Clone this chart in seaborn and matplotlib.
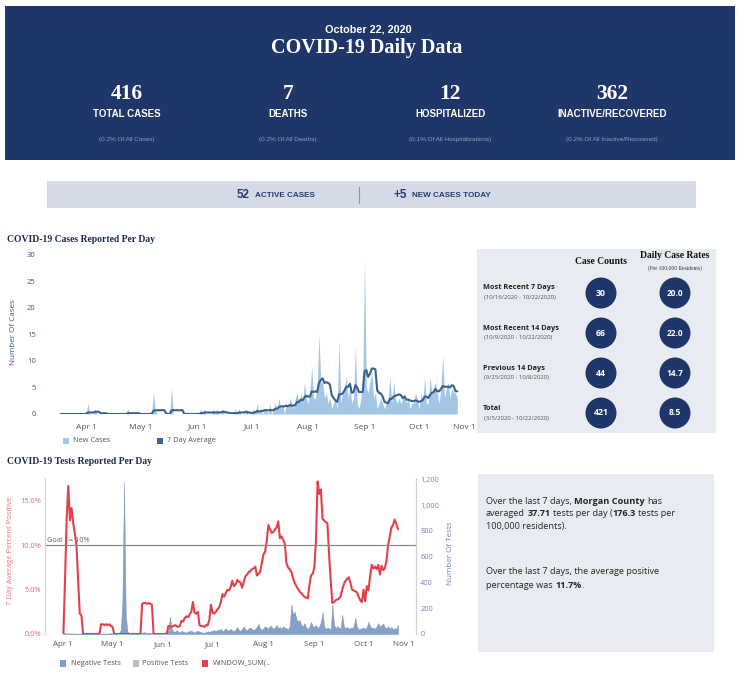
import numpy as np
import pandas as pd
import matplotlib
matplotlib.use("Agg")
import matplotlib.pyplot as plt
import seaborn as sns
from matplotlib.patches import Rectangle, Ellipse

# ---------------- data ----------------
report_date = "October 22, 2020"
headline_values = ["416", "7", "12", "362"]
headline_labels = ["TOTAL CASES", "DEATHS", "HOSPITALIZED", "INACTIVE/RECOVERED"]
headline_notes = ["(0.2% Of All Cases)", "(0.2% Of All Deaths)",
                  "(0.1% Of All Hospitalizations)", "(0.2% Of All Inactive/Recovered)"]
active_cases = "52"
new_today = "+5"

period_names = ["Most Recent 7 Days", "Most Recent 14 Days", "Previous 14 Days", "Total"]
period_ranges = ["(10/16/2020 - 10/22/2020)", "(10/9/2020 - 10/22/2020)",
                 "(9/25/2020 - 10/8/2020)", "(3/5/2020 - 10/22/2020)"]
period_counts = ["30", "66", "44", "421"]
period_rates = ["20.0", "22.0", "14.7", "8.5"]

# new cases per day, starting 2020-03-18
cases_start = "2020-03-18"
cases_mar = [0, 0, 0, 0, 0, 0, 0, 0, 0, 0, 0, 0, 0, 0]
cases_apr = [0, 2, 0, 0, 0, 1, 0, 0, 0, 0, 0, 0, 0, 0, 0, 0, 0, 0, 0, 0,
             0, 0, 0, 1, 0, 0, 0, 0, 0, 0]
cases_may = [0, 0, 0, 0, 0, 0, 0, 4, 1, 0, 0, 0, 0, 0, 0, 0, 0, 5, 0, 0,
             0, 0, 0, 0, 0, 0, 0, 0, 0, 0, 0]
cases_jun = [0, 0, 1, 0, 1, 0, 0, 0, 0, 1, 0, 1, 0, 0, 1, 0, 0, 0, 0, 0,
             0, 1, 0, 1, 0, 0, 0, 1, 0, 0]
cases_jul = [0, 1, 0, 2, 0, 1, 0, 1, 1, 0, 2, 0, 1, 2, 1, 3, 1, 2, 0, 2,
             1, 3, 2, 1, 3, 4, 2, 4, 2, 6, 3]
cases_aug = [2, 4, 9, 3, 3, 5, 15, 6, 6, 3, 4, 2, 3, 1, 2, 3, 1, 14, 2, 4,
             5, 7, 3, 5, 2, 3, 13, 2, 1, 3, 5]
cases_sep = [29, 5, 4, 6, 8, 3, 4, 1, 2, 3, 2, 1, 2, 3, 7, 2, 6, 3, 2, 3,
             2, 3, 4, 2, 3, 1, 2, 2, 4, 3]
cases_oct = [1, 4, 2, 7, 2, 2, 7, 4, 5, 6, 4, 2, 5, 11, 3, 5, 6, 3, 5, 4,
             4, 3]

# tests, starting 2020-04-01
tests_start = "2020-04-01"
neg_apr = [5, 8, 4, 6, 3, 5, 4, 2, 3, 2, 1, 0, 0, 2, 1, 0, 0, 3, 1, 0,
           0, 2, 0, 1, 5, 3, 2, 4, 3, 8]
neg_may = [6, 4, 3, 5, 10, 30, 260, 1180, 160, 20, 8, 5, 4, 6, 3, 2, 5, 12, 10, 14,
           12, 9, 11, 8, 10, 3, 2, 4, 3, 5, 6]
neg_jun = [10, 12, 8, 30, 135, 40, 22, 15, 30, 18, 12, 25, 20, 15, 10, 22, 18, 28, 15, 12,
           20, 25, 18, 14, 10, 12, 15, 20, 18, 22]
neg_jul = [25, 30, 20, 35, 28, 40, 22, 30, 45, 25, 30, 38, 28, 20, 35, 55, 30, 25, 40, 60,
           35, 30, 45, 50, 38, 28, 42, 55, 80, 40, 35]
neg_aug = [45, 60, 50, 40, 65, 55, 40, 50, 70, 45, 55, 40, 60, 50, 45, 35, 60, 230, 150, 175,
           120, 95, 110, 70, 60, 85, 50, 40, 55, 95, 60]
neg_sep = [55, 70, 45, 60, 90, 170, 60, 40, 50, 45, 35, 230, 70, 45, 60, 50, 40, 150, 60, 45,
           55, 40, 50, 45, 60, 126, 55, 35, 40, 45]
neg_oct = [50, 40, 55, 95, 60, 45, 50, 40, 60, 85, 55, 70, 80, 50, 45, 60, 40, 55, 35, 45,
           40, 70]

pct_apr = [0, 6, 13, 16.7, 12.8, 14.2, 12.5, 11.3, 10.0, 6.0, 2.3, 2.1, 0, 0, 0, 0, 0, 0, 0, 0,
           0, 0, 0, 1.1, 1.1, 1.0, 1.1, 1.0, 1.1, 0.9]
pct_may = [0.8, 0, 0, 0, 0, 0, 0, 0, 0, 0, 0, 0, 0, 0, 0, 0, 0, 0, 3.4, 3.5,
           3.5, 3.4, 3.5, 3.4, 3.3, 0, 0, 0, 0, 0, 0]
pct_jun = [0, 0, 0, 0.9, 0.9, 0.8, 0.9, 1.0, 0.9, 0.8, 0.9, 1.5, 1.4, 1.8, 2.0, 1.9, 2.2, 2.5, 3.6, 2.4,
           2.3, 2.5, 1.0, 0.9, 0.9, 0.8, 1.0, 1.0, 1.6, 3.3]
pct_jul = [2.4, 2.3, 2.5, 2.8, 3.0, 3.6, 4.5, 4.2, 4.6, 5.0, 4.9, 5.3, 6.0, 5.4, 5.6, 6.1, 5.9, 5.8, 5.2, 5.9,
           6.5, 6.7, 7.0, 7.1, 7.3, 7.4, 7.6, 6.6, 6.8, 7.0, 8.0]
pct_aug = [9.0, 9.3, 10.5, 12.3, 11.8, 11.4, 11.5, 11.8, 12.0, 12.7, 10.8, 11.0, 10.6, 10.2, 8.0, 7.5, 7.3, 7.0, 6.3, 5.8,
           5.4, 5.1, 4.8, 4.6, 4.4, 4.2, 4.1, 4.0, 5.5, 6.6, 6.8]
pct_sep = [7.5, 10.5, 17.2, 15.8, 16.3, 13.0, 12.8, 12.6, 12.5, 9.0, 6.0, 3.5, 3.6, 3.8, 3.9, 4.0, 4.2, 5.0, 5.6, 6.0,
           6.2, 6.4, 5.8, 5.0, 4.9, 4.8, 4.7, 4.2, 3.8, 3.6]
pct_oct = [5.0, 3.7, 5.4, 4.9, 6.5, 7.8, 7.4, 7.6, 7.3, 7.8, 6.7, 7.7, 7.2, 7.4, 8.3, 10.0, 11.0, 12.0, 12.3, 12.9,
           12.4, 11.8]

month_ticks = ["2020-04-01", "2020-05-01", "2020-06-01", "2020-07-01",
               "2020-08-01", "2020-09-01", "2020-10-01", "2020-11-01"]
cases_tick_labels = ["Apr 1", "May 1", "Jun 1", "Jul 1", "Aug 1", "Sep 1", "Oct 1", "Nov 1"]
case_yticks = [0, 5, 10, 15, 20, 25, 30]
pct_yticks = [0, 5, 10, 15]
pct_labels = ["0.0%", "5.0%", "10.0%", "15.0%"]
test_yticks = [0, 200, 400, 600, 800, 1000, 1200]
test_labels = ["0", "200", "400", "600", "800", "1,000", "1,200"]
goal_pct = 10

# ---------------- frames ----------------
new_cases = cases_mar + cases_apr + cases_may + cases_jun + cases_jul + cases_aug + cases_sep + cases_oct
cases = pd.DataFrame({"date": pd.date_range(cases_start, periods=len(new_cases)),
                      "new": new_cases})
cases["avg"] = cases["new"].rolling(7, min_periods=1).mean()

neg_tests = neg_apr + neg_may + neg_jun + neg_jul + neg_aug + neg_sep + neg_oct
pct_pos = pct_apr + pct_may + pct_jun + pct_jul + pct_aug + pct_sep + pct_oct
tests = pd.DataFrame({"date": pd.date_range(tests_start, periods=len(neg_tests)),
                      "neg": neg_tests, "pct": pct_pos})
ticks = pd.to_datetime(month_ticks)

# ---------------- style ----------------
NAVY = "#1f3669"
PANEL = "#e8ebf1"
W, H = 740, 676
sns.set_theme(style="white")
plt.rcParams["font.family"] = ["Open Sans", "DejaVu Sans"]

fig = plt.figure(figsize=(W / 100, H / 100), dpi=100)
fig.patch.set_facecolor("white")


def fx(x):
    return x / W


def fy(y):
    return 1 - y / H


def box(x0, y0, x1, y1, color):
    fig.add_artist(Rectangle((fx(x0), fy(y1)), (x1 - x0) / W, (y1 - y0) / H,
                             transform=fig.transFigure, facecolor=color,
                             edgecolor="none", zorder=0))


def txt(x, y, s, **kw):
    kw.setdefault("ha", "center")
    kw.setdefault("va", "center")
    return fig.text(fx(x), fy(y), s, **kw)


def axes_px(left, top, right, bottom):
    return fig.add_axes([fx(left), fy(bottom), (right - left) / W, (bottom - top) / H])


# ---------------- header ----------------
box(5, 6, 735, 160, NAVY)
txt(368, 29, report_date, color="white", fontsize=7.8, fontweight="bold", family="Liberation Sans")
txt(367, 48, "COVID-19 Daily Data", color="white", fontsize=14.5, fontweight="bold",
    family="Liberation Serif")
for cx, val, lab, note in zip([127, 288, 450, 612], headline_values, headline_labels, headline_notes):
    txt(cx, 94, val, color="white", fontsize=15.5, fontweight="bold", family="Liberation Serif")
    txt(cx, 114, lab, color="white", fontsize=7, fontweight="bold", family="Liberation Sans")
    txt(cx, 140, note, color="#8f9cb8", fontsize=4.6, family="Liberation Sans")

# banner
box(47, 181, 696, 208, "#d5dbe6")
txt(237, 195, active_cases, ha="left", color="#233c74", fontsize=8.4, fontweight="bold",
    family="Liberation Sans")
txt(255, 196, "ACTIVE CASES", ha="left", color="#233c74", fontsize=5.9, fontweight="bold",
    family="Liberation Sans")
fig.add_artist(plt.Line2D([fx(359), fx(359)], [fy(187), fy(203)], transform=fig.transFigure,
                          color="#8c95a8", lw=0.8))
txt(393, 195, new_today, ha="left", color="#233c74", fontsize=8.4, fontweight="bold",
    family="Liberation Sans")
txt(412, 196, "NEW CASES TODAY", ha="left", color="#233c74", fontsize=5.9, fontweight="bold",
    family="Liberation Sans")

# ---------------- cases chart ----------------
txt(7, 239, "COVID-19 Cases Reported Per Day", ha="left", color="#1b2a4a", fontsize=6.9,
    fontweight="bold", family="Liberation Serif")
ax = axes_px(58, 252, 475.5, 414)
ax.fill_between(cases["date"], cases["new"], color="#a3c6e6", lw=0)
sns.lineplot(data=cases, x="date", y="avg", ax=ax, color="#3a5f8c", lw=1.5)
ax.set_xlim(ticks[0] - pd.Timedelta(days=15.4), ticks[-1])
ax.set_ylim(0, 30.56)
ax.set_xticks(ticks)
ax.set_xticklabels(cases_tick_labels)
ax.get_xticklabels()[-1].set_ha("right")
ax.set_yticks(case_yticks)
ax.tick_params(axis="x", length=0, pad=7, labelsize=6, labelcolor="#555555")
ax.tick_params(axis="y", length=0, pad=16, labelsize=5.5, labelcolor="#3e5a85")
ax.set_xlabel("")
ax.set_ylabel("")
for sp in ax.spines.values():
    sp.set_visible(False)
ax.patch.set_alpha(0)
txt(14, 332, "Number Of Cases", rotation=90, color="#3e5a85", fontsize=5.8)

# cases legend
box(63, 438, 69, 444, "#a3c6e6")
txt(73, 441, "New Cases", ha="left", color="#555555", fontsize=5.3)
box(157, 438, 163, 444, "#3e6590")
txt(167, 441, "7 Day Average", ha="left", color="#555555", fontsize=5.3)

# ---------------- case table ----------------
box(477, 249, 716, 433, PANEL)
txt(601, 262, "Case Counts", color="#111111", fontsize=6.9, fontweight="bold", family="Liberation Serif")
txt(675, 256, "Daily Case Rates", color="#111111", fontsize=6.9, fontweight="bold",
    family="Liberation Serif")
txt(675, 268, "(Per 100,000 Residents)", color="#333333", fontsize=4.0, family="Liberation Serif")
for i, (nm, rg, cnt, rate) in enumerate(zip(period_names, period_ranges, period_counts, period_rates)):
    cy = 293 + 40 * i
    txt(483, cy - 5, nm, ha="left", color="#222222", fontsize=5.3, fontweight="bold")
    txt(484, cy + 5, rg, ha="left", color="#555555", fontsize=4.3)
    for cx, s in [(601, cnt), (675, rate)]:
        fig.add_artist(Ellipse((fx(cx), fy(cy)), 31 / W, 31 / H, transform=fig.transFigure,
                               facecolor=NAVY, edgecolor="none"))
        txt(cx, cy, s, color="white", fontsize=6.3 if len(s) < 4 else 6.0, fontweight="bold")

# ---------------- tests chart ----------------
txt(7, 461, "COVID-19 Tests Reported Per Day", ha="left", color="#1b2a4a", fontsize=6.9,
    fontweight="bold", family="Liberation Serif")
axp = axes_px(45, 478, 416, 634)
axt = axp.twinx()
axt.fill_between(tests["date"], tests["neg"], color="#86a1c8", lw=0.3, edgecolor="#7390ba")
sns.lineplot(data=tests, x="date", y="pct", ax=axp, color="#e2404a", lw=1.5)
axp.axhline(goal_pct, color="#8a8a8a", lw=0.9)
axp.text(0.006, goal_pct + 0.2, "Goal <= 10%", transform=axp.get_yaxis_transform(),
         ha="left", va="bottom", fontsize=5.3, color="#666666")
axp.set_zorder(axt.get_zorder() + 1)
axp.patch.set_visible(False)
axp.set_xlim(ticks[0] - pd.Timedelta(days=11.2), ticks[-1] + pd.Timedelta(days=1.0))
axp.set_ylim(0, 17.59)
axt.set_ylim(0, 1210)
axp.set_xticks(ticks)
axp.set_xticklabels(cases_tick_labels)
axp.get_xticklabels()[-1].set_ha("right")
axp.set_yticks(pct_yticks)
axp.set_yticklabels(pct_labels)
axt.set_yticks(test_yticks)
axt.set_yticklabels(test_labels)
axp.tick_params(axis="x", length=0, pad=5, labelsize=5.8, labelcolor="#555555")
axp.tick_params(axis="y", length=0, pad=3, labelsize=5.3, labelcolor="#e0666e")
axt.tick_params(axis="y", length=0, pad=3, labelsize=5.3, labelcolor="#7284b2")
for a in (axp, axt):
    a.set_xlabel("")
    a.set_ylabel("")
    for k, sp in a.spines.items():
        sp.set_visible(k in ("left", "right"))
        sp.set_color("#d3d3d3")
        sp.set_linewidth(0.8)
txt(11, 551, "7 Day Average Percent Positive", rotation=90, color="#e8747a", fontsize=5.5)
txt(450, 553, "Number Of Tests", rotation=90, color="#7284b2", fontsize=5.8)

# tests legend
box(60, 660, 66, 667, "#7f9cc4")
txt(71, 663.5, "Negative Tests", ha="left", color="#555555", fontsize=5.3)
box(133, 660, 139, 667, "#bdbdbd")
txt(142, 663.5, "Positive Tests", ha="left", color="#555555", fontsize=5.3)
box(202, 660, 208, 667, "#e2404a")
txt(213, 663.5, "WINDOW_SUM(..", ha="left", color="#555555", fontsize=5.3)

# ---------------- text panel ----------------
box(478, 474, 714, 652, PANEL)
renderer = fig.canvas.get_renderer()


def run_width(s, size, weight):
    # measure with sentinels so leading/trailing spaces count
    a = fig.text(0, 0, "|" + s + "|", fontsize=size, fontweight=weight)
    b = fig.text(0, 0, "||", fontsize=size, fontweight=weight)
    w = a.get_window_extent(renderer).width - b.get_window_extent(renderer).width
    a.remove()
    b.remove()
    return w


def rich(x, y, parts, size=6.6):
    for s, bold in parts:
        weight = "bold" if bold else "normal"
        lead = s[:len(s) - len(s.lstrip(" "))]
        core = s.strip(" ")
        x += run_width(lead, size, weight) if lead else 0
        fig.text(fx(x), fy(y), core, fontsize=size, ha="left", va="center",
                 fontweight=weight, color="#262626")
        x += run_width(s.lstrip(" "), size, weight)


rich(486, 501, [("Over the last 7 days, ", False), ("Morgan County", True), (" has", False)])
rich(486, 514, [("averaged ", False), ("37.71", True), (" tests per day (", False),
                ("176.3", True), (" tests per", False)])
rich(486, 526, [("100,000 residents).", False)])
rich(486, 572, [("Over the last 7 days, the average positive", False)])
rich(486, 586, [("percentage was ", False), ("11.7%", True), (".", False)])

fig.savefig("out.png", dpi=100)
